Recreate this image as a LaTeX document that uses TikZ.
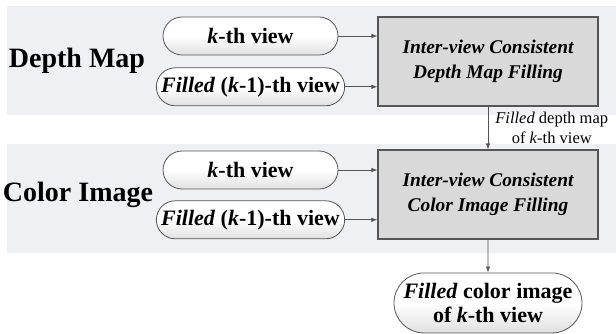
\documentclass[tikz,border=0pt]{standalone}
\usepackage{fontspec}
\setmainfont{Liberation Serif}
\usepackage{xcolor}
\usetikzlibrary{shapes.misc,arrows.meta,positioning}

\definecolor{bandgray}{HTML}{EFF0F4}
\definecolor{boxgray}{HTML}{D9D9D9}
\definecolor{linegray}{HTML}{555555}

\tikzset{
    band/.style={fill=bandgray},
    pill/.style={rounded rectangle, draw=linegray, line width=0.8pt,
        top color=white, bottom color=black!12, middle color=white,
        minimum width=179pt, minimum height=38pt, inner sep=2pt,
        font=\fontsize{22}{24}\selectfont\bfseries},
    procbox/.style={rectangle, draw=linegray, line width=1.1pt, fill=boxgray,
        minimum width=220pt, align=center,
        font=\fontsize{19.4}{25}\selectfont\bfseries\itshape},
    streamlabel/.style={font=\fontsize{28}{30}\selectfont\bfseries},
    flow/.style={draw=linegray, line width=0.8pt, -{Latex[length=6pt,width=4.5pt]}}
}

\begin{document}
\begin{tikzpicture}[x=1pt,y=-1pt]
    \useasboundingbox (0,0) rectangle (616,334);

    % Background bands
    \fill[band] (7,6) rectangle (616,115);
    \fill[band] (7,144) rectangle (616,253);

    % Depth map stage
    \node[procbox, minimum height=89pt] (depthbox) at (488,61.5)
        {Inter-view Consistent\\Depth Map Filling};
    \node[pill] (depthk) at (250.5,36) {\textit{k}-th view};
    \node[pill, below=12pt of depthk] (depthprev)
        {\textit{Filled} (\textit{k}-1)-th view};
    \node[streamlabel] (depthname) at (77,61) {Depth Map};

    % Color image stage
    \node[procbox, minimum height=89pt] (colorbox) at (488,194.5)
        {Inter-view Consistent\\Color Image Filling};
    \node[pill] (colork) at (250.5,170) {\textit{k}-th view};
    \node[pill, below=11pt of colork] (colorprev)
        {\textit{Filled} (\textit{k}-1)-th view};
    \node[streamlabel] (colorname) at (78,195) {Color Image};

    % Output
    \node[pill, minimum width=192pt, minimum height=60pt, align=center,
        below=33pt of colorbox] (result)
        {\textit{Filled} color image\\of \textit{k}-th view};

    % Connections
    \draw[flow] (depthk.east) -- (depthk.east -| depthbox.west);
    \draw[flow] (depthprev.east) -- (depthprev.east -| depthbox.west);
    \draw[flow] (colork.east) -- (colork.east -| colorbox.west);
    \draw[flow] (colorprev.east) -- (colorprev.east -| colorbox.west);

    \draw[flow] (depthbox) -- (colorbox)
        node[midway, anchor=west, align=center, inner sep=1pt, xshift=6pt,
            font=\fontsize{16.5}{20}\selectfont] (depthout)
            {\textit{Filled} depth map\\of \textit{k}-th view};
    \draw[flow] (colorbox) -- (result);
\end{tikzpicture}
\end{document}
